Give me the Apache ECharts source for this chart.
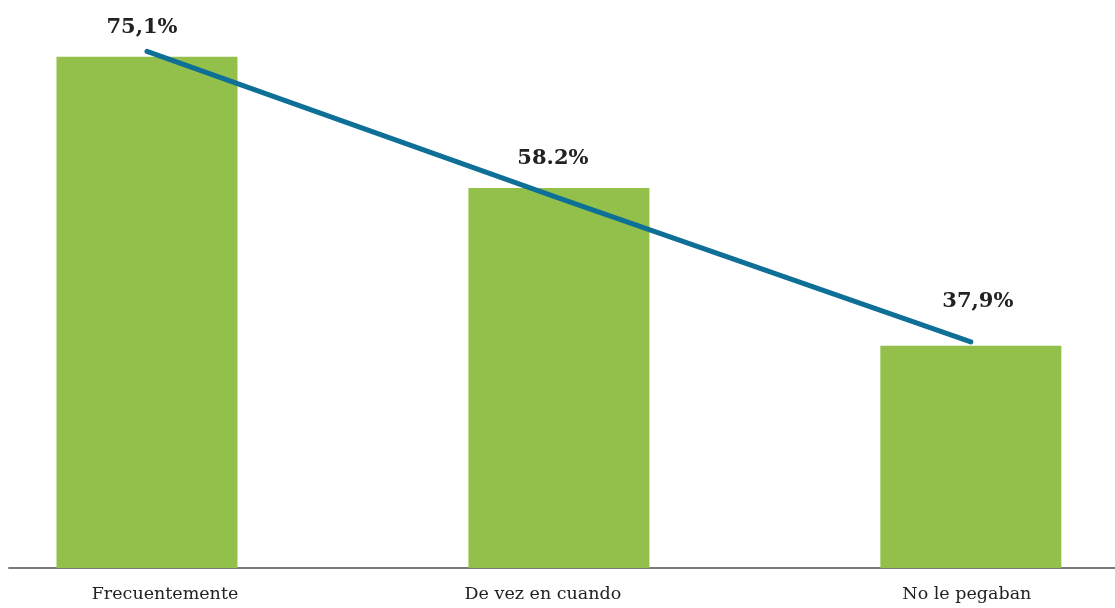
<!DOCTYPE html>
<html>
<head>
<meta charset="utf-8">
<script src="https://cdn.jsdelivr.net/npm/echarts@6/dist/echarts.min.js"></script>
<style>
html,body{margin:0;padding:0;background:#fff;}
#chart{width:1115px;height:608px;}
</style>
</head>
<body>
<div id="chart"></div>
<script>
// ---- data ----
const categories = ['Frecuentemente', 'De vez en cuando', 'No le pegaban'];
const barValues = [75.1, 58.2, 37.9];
const barLabels = ['75,1%', '58.2%', '37,9%'];
const trendValues = [75.8, 56.9, 38.4];

// ---- styling / layout (not data) ----
const labelNudge = [[-5, 0], [-6, 0], [7, -15]];

const chart = echarts.init(document.getElementById('chart'));
const catStyle = { fontFamily: 'DejaVu Serif', fontSize: 17.5, color: '#222' };
const option = {
  animation: false,
  backgroundColor: '#ffffff',
  grid: { left: 9, right: 0, top: 0, bottom: 40 },
  xAxis: {
    type: 'value',
    min: -0.335,
    max: 2.35,
    splitLine: { show: false },
    axisLine: { show: true, onZero: false, lineStyle: { color: '#7a7a7a', width: 2 } },
    axisTick: { show: false },
    axisLabel: {
      customValues: [0, 1, 2],
      showMinLabel: true,
      showMaxLabel: true,
      margin: 17,
      formatter: function (v) {
        const i = Math.round(v);
        return '{c' + i + '|' + categories[i] + '}';
      },
      rich: {
        c0: Object.assign({ padding: [0, 0, 0, 36] }, catStyle),
        c1: Object.assign({ padding: [0, 32, 0, 0] }, catStyle),
        c2: Object.assign({ padding: [0, 8, 0, 0] }, catStyle)
      }
    }
  },
  yAxis: {
    type: 'value',
    min: 9.3,
    max: 82.4,
    show: false,
    splitLine: { show: false }
  },
  series: [
    {
      type: 'bar',
      barWidth: 181,
      itemStyle: { color: '#92c04b' },
      data: barValues.map(function (v, i) {
        return {
          value: [i, v],
          label: { offset: labelNudge[i] }
        };
      }),
      label: {
        show: true,
        position: 'top',
        distance: 19,
        fontFamily: 'DejaVu Serif',
        fontWeight: 'bold',
        fontSize: 21,
        color: '#222',
        formatter: function (p) { return barLabels[p.dataIndex]; }
      },
      z: 2
    },
    {
      type: 'line',
      data: trendValues.map(function (v, i) { return [i, v]; }),
      symbol: 'none',
      lineStyle: { color: '#0e6f97', width: 5, cap: 'round' },
      z: 3
    }
  ]
};
chart.setOption(option);
</script>
</body>
</html>
